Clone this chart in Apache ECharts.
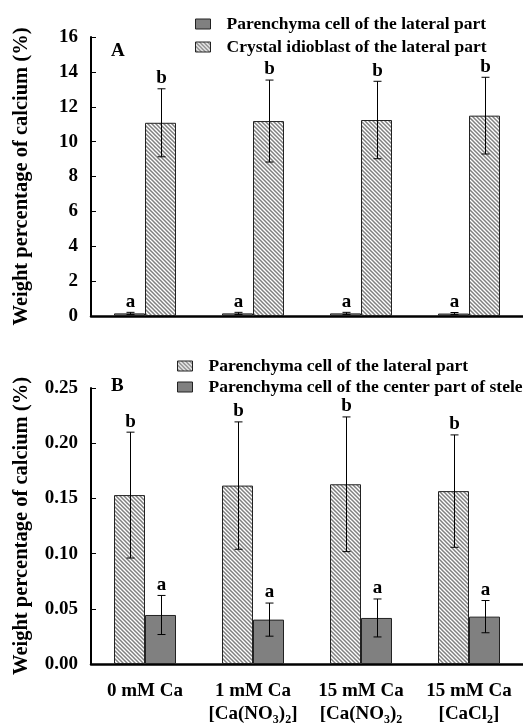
<!DOCTYPE html>
<html><head><meta charset="utf-8">
<script src="https://cdn.jsdelivr.net/npm/echarts@6/dist/echarts.min.js"></script>
<style>html,body{margin:0;padding:0;background:#fff}#c{width:523px;height:726px}</style>
</head><body><div id="c"></div>
<script>
// ---- data ----
const categories = ['0 mM Ca', '1 mM Ca\n[Ca(NO{s|3}){s|2}]', '15 mM Ca\n[Ca(NO{s|3}){s|2}', '15 mM Ca\n[CaCl{s|2}]'];
const topNames = ['Parenchyma cell of the lateral part', 'Crystal idioblast of the lateral part'];
const topParenchyma = [0.15, 0.15, 0.15, 0.14];
const topParenchymaErr = [0.06, 0.06, 0.06, 0.06];
const topParenchymaLetters = ['a', 'a', 'a', 'a'];
const topCrystal = [11.08, 11.18, 11.24, 11.49];
const topCrystalErr = [1.95, 2.35, 2.22, 2.2];
const topCrystalLetters = ['b', 'b', 'b', 'b'];
const botNames = ['Parenchyma cell of the lateral part', 'Parenchyma cell of the center part of stele'];
const botLateral = [0.153, 0.1616, 0.1628, 0.1566];
const botLateralErr = [0.057, 0.0577, 0.061, 0.0509];
const botLateralLetters = ['b', 'b', 'b', 'b'];
const botStele = [0.0444, 0.0402, 0.0417, 0.0429];
const botSteleErr = [0.0177, 0.015, 0.0172, 0.0146];
const botSteleLetters = ['a', 'a', 'a', 'a'];
const topTicks = {min: 0, max: 16, interval: 2};
const botTicks = {min: 0, max: 0.25, interval: 0.05};
const yName = 'Weight percentage of calcium (%)';

// ---- styles ----
const FONT = "'Liberation Serif','Times New Roman',serif";
const BW = 31;
function hatch() {
  const c = document.createElement('canvas');
  c.width = 4; c.height = 4;
  const g = c.getContext('2d');
  g.fillStyle = '#fff'; g.fillRect(0, 0, 4, 4);
  g.strokeStyle = '#808080'; g.lineWidth = 1.5;
  g.beginPath();
  g.moveTo(-1, -1); g.lineTo(5, 5);
  g.moveTo(-1, 3); g.lineTo(1, 5);
  g.moveTo(3, -1); g.lineTo(5, 1);
  g.stroke();
  return c;
}
const hatchFill = {image: hatch(), repeat: 'repeat'};
const grayFill = '#808080';

function errSeries(gridIdx, vals, errs, letters, offset) {
  return {
    type: 'custom', xAxisIndex: gridIdx, yAxisIndex: gridIdx, z: 10,
    data: vals.map((v, i) => [i, v, errs[i]]),
    renderItem: function (params, api) {
      const i = api.value(0), v = api.value(1), e = api.value(2);
      const c = api.coord([i, v]);
      const x = Math.round(c[0] + offset) + 0.5;
      const hi = api.coord([i, v + e])[1];
      const lo = api.coord([i, v - e])[1];
      const cw = 4;
      const st = {stroke: '#000', lineWidth: 1};
      return {type: 'group', children: [
        {type: 'line', shape: {x1: x, y1: hi, x2: x, y2: lo}, style: st},
        {type: 'line', shape: {x1: x - cw, y1: hi, x2: x + cw, y2: hi}, style: st},
        {type: 'line', shape: {x1: x - cw, y1: lo, x2: x + cw, y2: lo}, style: st},
        {type: 'text', x: x, y: hi - 1, style: {text: letters[i], font: 'bold 19px ' + FONT, fill: '#000', align: 'center', verticalAlign: 'bottom'}}
      ]};
    }
  };
}

function xAxis(gridIdx, showLabels) {
  return {
    type: 'category', gridIndex: gridIdx, data: categories,
    axisLine: {lineStyle: {color: '#000', width: 2.5}},
    axisTick: {inside: true, length: 4, lineStyle: {color: '#000', width: 1}},
    axisLabel: {show: showLabels, interval: 0, margin: 16, color: '#000', fontFamily: FONT, fontWeight: 'bold', fontSize: 19, lineHeight: 23,
      rich: {s: {fontFamily: FONT, fontWeight: 'bold', fontSize: 12, verticalAlign: 'bottom', lineHeight: 23, padding: [10, 0, 0, 0]}}}
  };
}
function yAxis(gridIdx, t, fmt) {
  return {
    type: 'value', gridIndex: gridIdx, min: t.min, max: t.max, interval: t.interval,
    name: yName, nameLocation: 'middle', nameGap: 59,
    nameTextStyle: {color: '#000', fontFamily: FONT, fontWeight: 'bold', fontSize: 20.5},
    splitLine: {show: false},
    axisLine: {show: true, lineStyle: {color: '#000', width: 2}},
    axisTick: {show: true, inside: true, length: 5, lineStyle: {color: '#000', width: 1}},
    axisLabel: {margin: 13, color: '#000', fontFamily: FONT, fontWeight: 'bold', fontSize: 19, formatter: fmt}
  };
}
const legendText = {color: '#000', fontFamily: FONT, fontWeight: 'bold', fontSize: 17.5, padding: [0, 0, 0, 11]};

const option = {
  animation: false,
  backgroundColor: '#fff',
  grid: [
    {left: 91, right: 0, top: 37, height: 279},
    {left: 91, right: 0, top: 388, height: 280}
  ],
  xAxis: [xAxis(0, false), xAxis(1, true)],
  yAxis: [yAxis(0, topTicks, v => String(v)), yAxis(1, botTicks, v => v.toFixed(2))],
  legend: [
    {left: 190, top: 10, orient: 'vertical', icon: 'rect', itemWidth: 15, itemHeight: 10, itemGap: 5, textStyle: legendText,
      data: [{name: topNames[0], itemStyle: {color: grayFill, borderColor: '#222', borderWidth: 1}},
             {name: topNames[1], itemStyle: {color: hatchFill, borderColor: '#222', borderWidth: 1}}]},
    {left: 172, top: 352, orient: 'vertical', icon: 'rect', itemWidth: 15, itemHeight: 10, itemGap: 3, textStyle: legendText,
      data: [{name: 'Parenchyma cell of the lateral part ', itemStyle: {color: hatchFill, borderColor: '#222', borderWidth: 1}},
             {name: botNames[1], itemStyle: {color: grayFill, borderColor: '#222', borderWidth: 1}}]}
  ],
  graphic: [
    {type: 'text', left: 111, top: 42, style: {text: 'A', font: 'bold 19px ' + FONT, fill: '#000'}},
    {type: 'text', left: 111, top: 377, style: {text: 'B', font: 'bold 19px ' + FONT, fill: '#000'}}
  ],
  series: [
    {type: 'bar', name: topNames[0], xAxisIndex: 0, yAxisIndex: 0, data: topParenchyma, barWidth: BW, barGap: '0%',
      itemStyle: {color: grayFill, borderColor: '#222', borderWidth: 1}},
    {type: 'bar', name: topNames[1], xAxisIndex: 0, yAxisIndex: 0, data: topCrystal, barWidth: BW, barGap: '0%',
      itemStyle: {color: hatchFill, borderColor: '#222', borderWidth: 1}},
    {type: 'bar', name: 'Parenchyma cell of the lateral part ', xAxisIndex: 1, yAxisIndex: 1, data: botLateral, barWidth: BW, barGap: '0%',
      itemStyle: {color: hatchFill, borderColor: '#222', borderWidth: 1}},
    {type: 'bar', name: botNames[1], xAxisIndex: 1, yAxisIndex: 1, data: botStele, barWidth: BW, barGap: '0%',
      itemStyle: {color: grayFill, borderColor: '#222', borderWidth: 1}},
    errSeries(0, topParenchyma, topParenchymaErr, topParenchymaLetters, -BW / 2),
    errSeries(0, topCrystal, topCrystalErr, topCrystalLetters, BW / 2),
    errSeries(1, botLateral, botLateralErr, botLateralLetters, -BW / 2),
    errSeries(1, botStele, botSteleErr, botSteleLetters, BW / 2)
  ]
};
const chart = echarts.init(document.getElementById('c'), null, {renderer: 'canvas'});
chart.setOption(option);
</script></body></html>
